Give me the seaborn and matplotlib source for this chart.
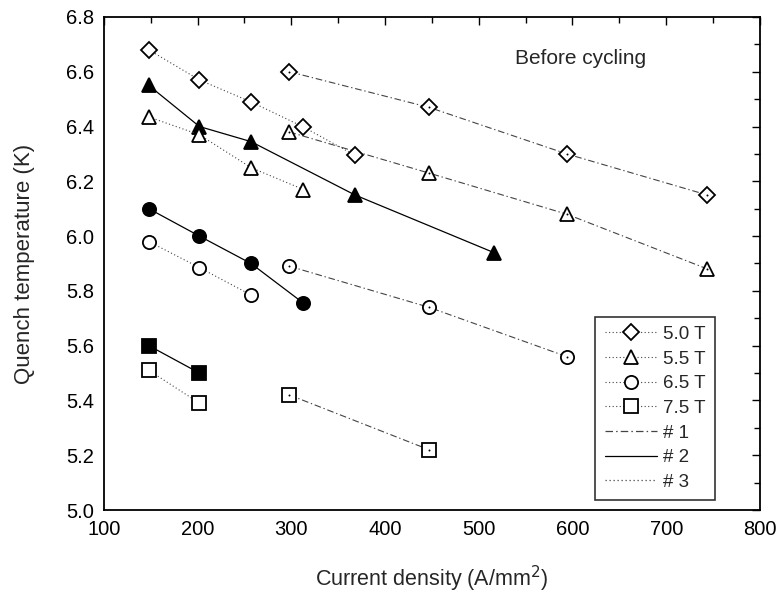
import matplotlib
matplotlib.use("Agg")
import matplotlib.pyplot as plt
import seaborn as sns
import pandas as pd
from matplotlib.lines import Line2D
from matplotlib.ticker import MultipleLocator, FormatStrFormatter

sns.set_theme(style="white")
plt.rcParams['font.family'] = ['Liberation Sans', 'DejaVu Sans']

# ---- data ----
# Sample #1 (dash-dot, open markers)
s1_x_50 = [298, 447, 594, 744]
s1_y_50 = [6.60, 6.47, 6.30, 6.15]
s1_x_55 = [298, 447, 594, 744]
s1_y_55 = [6.38, 6.23, 6.08, 5.88]
s1_x_65 = [298, 447, 594]
s1_y_65 = [5.89, 5.74, 5.56]
s1_x_75 = [298, 447]
s1_y_75 = [5.42, 5.22]
# Sample #2 (solid, filled markers)
s2_x_55 = [148, 202, 257, 368, 516]
s2_y_55 = [6.55, 6.40, 6.345, 6.15, 5.94]
s2_x_65 = [148, 202, 257, 313]
s2_y_65 = [6.10, 6.00, 5.90, 5.755]
s2_x_75 = [148, 202]
s2_y_75 = [5.60, 5.50]
# Sample #3 (dotted, open markers)
s3_x_50 = [148, 202, 257, 312, 368]
s3_y_50 = [6.68, 6.57, 6.49, 6.40, 6.295]
s3_x_55 = [148, 202, 257, 313]
s3_y_55 = [6.435, 6.37, 6.25, 6.17]
s3_x_65 = [148, 202, 257]
s3_y_65 = [5.98, 5.885, 5.785]
s3_x_75 = [148, 202]
s3_y_75 = [5.51, 5.39]

field_labels = ["5.0 T", "5.5 T", "6.5 T", "7.5 T"]
sample_labels = ["# 1", "# 2", "# 3"]

markers = {"5.0 T": "D", "5.5 T": "^", "6.5 T": "o", "7.5 T": "s"}
msizes = {"5.0 T": 8.5, "5.5 T": 10.5, "6.5 T": 9.5, "7.5 T": 9.5}
styles = {"# 1": (0, (6, 2.5, 1.2, 2.5)), "# 2": "-", "# 3": (0, (1, 2.2))}

series = [
    ("# 1", "5.0 T", s1_x_50, s1_y_50), ("# 1", "5.5 T", s1_x_55, s1_y_55),
    ("# 1", "6.5 T", s1_x_65, s1_y_65), ("# 1", "7.5 T", s1_x_75, s1_y_75),
    ("# 2", "5.5 T", s2_x_55, s2_y_55), ("# 2", "6.5 T", s2_x_65, s2_y_65),
    ("# 2", "7.5 T", s2_x_75, s2_y_75),
    ("# 3", "5.0 T", s3_x_50, s3_y_50), ("# 3", "5.5 T", s3_x_55, s3_y_55),
    ("# 3", "6.5 T", s3_x_65, s3_y_65), ("# 3", "7.5 T", s3_x_75, s3_y_75),
]

fig = plt.figure(figsize=(7.81, 5.94), dpi=100)
ax = fig.add_axes([0.133, 0.1414, 0.840, 0.830])

for sample, field, xs, ys in series:
    df = pd.DataFrame({"x": xs, "y": ys})
    filled = sample == "# 2"
    lw = 0.9 if filled else 0.8
    lc = "black" if filled else "#444444"
    sns.lineplot(data=df, x="x", y="y", ax=ax, sort=False, estimator=None,
                 color=lc, linewidth=lw, linestyle=styles[sample],
                 marker=markers[field], markersize=msizes[field],
                 markerfacecolor="black" if filled else "white",
                 markeredgecolor="black", markeredgewidth=1.3, zorder=3)
    if sample == "# 1":
        sns.scatterplot(x=xs, y=ys, ax=ax, s=2, color="black", linewidth=0, zorder=4)

ax.set_xlim(100, 800)
ax.set_ylim(5.0, 6.8)
ax.xaxis.set_major_locator(MultipleLocator(100))
ax.xaxis.set_minor_locator(MultipleLocator(50))
ax.yaxis.set_major_locator(MultipleLocator(0.2))
ax.yaxis.set_minor_locator(MultipleLocator(0.1))
ax.yaxis.set_major_formatter(FormatStrFormatter("%.1f"))
ax.tick_params(which="both", direction="in", top=True, right=True,
               labelsize=14.5, colors="black", pad=7)
ax.tick_params(which="major", length=6, width=1.0)
ax.tick_params(which="minor", length=4, width=1.0)
for sp in ax.spines.values():
    sp.set_color("black")
    sp.set_linewidth(1.3)

ax.set_xlabel("Current density (A/mm$^2$)", fontsize=15.5, labelpad=18)
ax.set_ylabel("Quench temperature (K)", fontsize=16, labelpad=22)
ax.text(609, 6.647, "Before cycling", fontsize=15, ha="center", va="center")

handles = []
for f in field_labels:
    handles.append(Line2D([], [], color="#444444", linestyle=(0, (1, 2.2)), linewidth=0.8,
                          marker=markers[f], markersize=msizes[f],
                          markerfacecolor="white", markeredgecolor="black",
                          markeredgewidth=1.3))
for s in sample_labels:
    handles.append(Line2D([], [], color="#444444" if s != "# 2" else "black",
                          linestyle=styles[s], linewidth=0.9))
leg = ax.legend(handles, field_labels + sample_labels, loc="lower right",
                bbox_to_anchor=(0.931, 0.02), frameon=True, fancybox=False,
                edgecolor="black", fontsize=13.5, handlelength=2.8,
                handletextpad=0.3, borderpad=0.5, labelspacing=0.4,
                borderaxespad=0)
leg.get_frame().set_linewidth(1.2)

fig.savefig("out.png", dpi=100)
